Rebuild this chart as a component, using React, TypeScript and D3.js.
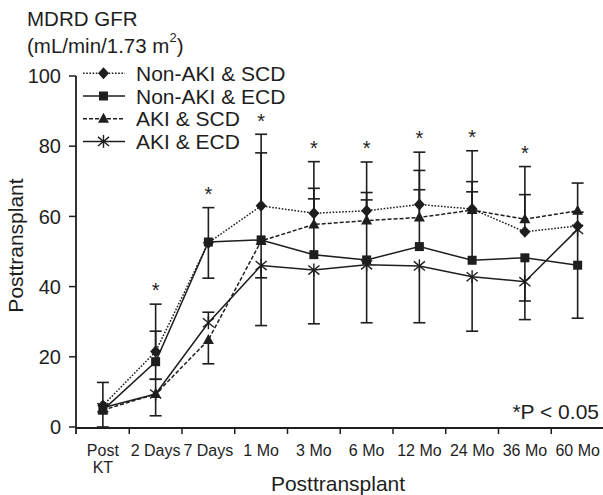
import React from 'react';
import * as d3 from 'd3';

const categories = ['Post KT', '2 Days', '7 Days', '1 Mo', '3 Mo', '6 Mo', '12 Mo', '24 Mo', '36 Mo', '60 Mo'];
const yTicks = [0, 20, 40, 60, 80, 100];

// means and one-sided error bars (0 = no bar drawn in that direction)
const nonAkiScd = [6.1, 21.5, 52.5, 63.0, 60.9, 61.6, 63.4, 62.1, 55.6, 57.3];
const nonAkiScdUp = [6.6, 13.5, 10.0, 20.4, 14.7, 13.9, 14.9, 16.6, 10.6, 0];
const nonAkiScdDown = [0, 0, 0, 0, 0, 0, 0, 0, 0, 0];
const nonAkiEcd = [4.8, 18.6, 52.7, 53.3, 49.1, 47.6, 51.4, 47.5, 48.2, 46.1];
const nonAkiEcdUp = [0, 8.7, 0, 24.8, 15.9, 17.1, 16.2, 19.5, 0, 15.1];
const nonAkiEcdDown = [0, 5.0, 10.3, 0, 0, 0, 0, 0, 17.6, 15.1];
const akiScd = [4.8, 9.4, 24.8, 53.0, 57.7, 58.8, 59.7, 61.8, 59.2, 61.6];
const akiScdUp = [0, 0, 0, 0, 10.3, 8.0, 13.4, 8.1, 15.0, 7.9];
const akiScdDown = [0, 6.2, 6.8, 10.5, 0, 0, 0, 0, 0, 0];
const akiEcd = [5.5, 9.4, 29.7, 46.0, 44.7, 46.2, 45.9, 42.8, 41.4, 56.3];
const akiEcdUp = [0, 4.2, 3.0, 0, 0, 0, 0, 0, 0, 0];
const akiEcdDown = [5.5, 0, 0, 17.1, 15.3, 16.5, 16.2, 15.5, 5.5, 0];

// 1 = significant (*P < 0.05)
const significant = [0, 1, 1, 1, 1, 1, 1, 1, 1, 0];

const series = [
  { name: 'Non-AKI & SCD', values: nonAkiScd, up: nonAkiScdUp, down: nonAkiScdDown, dash: '1.6 1.6', marker: 'diamond' },
  { name: 'Non-AKI & ECD', values: nonAkiEcd, up: nonAkiEcdUp, down: nonAkiEcdDown, dash: null, marker: 'square' },
  { name: 'AKI & SCD', values: akiScd, up: akiScdUp, down: akiScdDown, dash: '4 2', marker: 'triangle' },
  { name: 'AKI & ECD', values: akiEcd, up: akiEcdUp, down: akiEcdDown, dash: null, marker: 'asterisk' },
];

const INK = '#1e1e1e';
const FONT = '"Liberation Sans", Arial, sans-serif';

function Marker({ type, x, y }: { type: string; x: number; y: number }) {
  if (type === 'diamond') {
    return <path d={`M${x},${y - 6}L${x + 5.5},${y}L${x},${y + 6}L${x - 5.5},${y}Z`} fill={INK} />;
  }
  if (type === 'square') {
    return <rect x={x - 4.5} y={y - 4.5} width={9} height={9} fill={INK} />;
  }
  if (type === 'triangle') {
    return <path d={`M${x},${y - 6}L${x + 5.5},${y + 4}L${x - 5.5},${y + 4}Z`} fill={INK} />;
  }
  const r = 6.5;
  return (
    <g stroke={INK} strokeWidth={1.4}>
      <line x1={x - r * 0.85} y1={y - r * 0.7} x2={x + r * 0.85} y2={y + r * 0.7} />
      <line x1={x - r * 0.85} y1={y + r * 0.7} x2={x + r * 0.85} y2={y - r * 0.7} />
      <line x1={x} y1={y - r} x2={x} y2={y + r} />
    </g>
  );
}

export default function App() {
  const width = 603;
  const height = 495;

  const x = d3.scaleBand<string>().domain(categories).range([76.5, 604]);
  const y = d3.scaleLinear().domain([0, 100]).range([427, 76]);
  const cx = (c: string) => (x(c) as number) + x.bandwidth() / 2;

  const capHalf = 6;

  return (
    <svg
      width={width}
      height={height}
      style={{ position: 'absolute', left: 0, top: 0, background: '#fff', fontFamily: FONT }}
    >
      {/* title */}
      <text x={27} y={26} fontSize={20.5} fill={INK}>MDRD GFR</text>
      <text x={27} y={53} fontSize={20.5} fill={INK}>
        (mL/min/1.73 m<tspan fontSize={13} dy={-11}>2</tspan><tspan dy={11}>)</tspan>
      </text>

      {/* error bars */}
      {series.map((s) =>
        s.values.map((v, i) => {
          const px = cx(categories[i]);
          const bars = [];
          if (s.up[i] > 0) {
            const hi = y(v + s.up[i]);
            bars.push(
              <g key="u" stroke={INK} strokeWidth={1.6}>
                <line x1={px} x2={px} y1={hi} y2={y(v)} />
                <line x1={px - capHalf} x2={px + capHalf} y1={hi} y2={hi} />
              </g>
            );
          }
          if (s.down[i] > 0) {
            const lo = y(Math.max(0, v - s.down[i]));
            bars.push(
              <g key="d" stroke={INK} strokeWidth={1.6}>
                <line x1={px} x2={px} y1={y(v)} y2={lo} />
                <line x1={px - capHalf} x2={px + capHalf} y1={lo} y2={lo} />
              </g>
            );
          }
          return <g key={s.name + i}>{bars}</g>;
        })
      )}

      {/* lines */}
      {series.map((s) => {
        const line = d3
          .line<number>()
          .x((_, i) => cx(categories[i]))
          .y((v) => y(v));
        return (
          <path
            key={s.name}
            d={line(s.values) || ''}
            fill="none"
            stroke={INK}
            strokeWidth={1.5}
            strokeDasharray={s.dash || undefined}
          />
        );
      })}

      {/* markers */}
      {series.map((s) =>
        s.values.map((v, i) => (
          <Marker key={s.name + 'm' + i} type={s.marker} x={cx(categories[i])} y={y(v)} />
        ))
      )}

      {/* significance asterisks */}
      {significant.map((f, i) => {
        if (!f) return null;
        const top = d3.max(series, (s) => s.values[i] + s.up[i]) as number;
        return (
          <text key={'sig' + i} x={cx(categories[i])} y={y(top + 5.2) + 11.5} fontSize={20} textAnchor="middle" fill={INK}>
            *
          </text>
        );
      })}

      {/* y axis */}
      <line x1={76} x2={76} y1={y(100)} y2={434} stroke={INK} strokeWidth={1.8} />
      {yTicks.map((t) => (
        <g key={'yt' + t}>
          <line x1={69} x2={76} y1={y(t)} y2={y(t)} stroke={INK} strokeWidth={1.5} />
          <text x={61} y={y(t) + 7.2} fontSize={20} textAnchor="end" fill={INK}>{t}</text>
        </g>
      ))}
      <text transform={`translate(23,245.5) rotate(-90)`} fontSize={21} textAnchor="middle" fill={INK}>
        Posttransplant
      </text>

      {/* x axis */}
      <line x1={76} x2={603} y1={y(0) + 1} y2={y(0) + 1} stroke={INK} strokeWidth={1.8} />
      {categories.slice(1).map((c) => (
        <line key={'xt' + c} x1={x(c)} x2={x(c)} y1={y(0) + 1} y2={y(0) + 7} stroke={INK} strokeWidth={1.5} />
      ))}
      {categories.map((c) => {
        const parts = c === 'Post KT' ? ['Post', 'KT'] : [c];
        return (
          <text key={'xl' + c} x={cx(c)} y={456} fontSize={16} textAnchor="middle" fill={INK}>
            {parts.map((p, k) => (
              <tspan key={p} x={cx(c)} dy={k === 0 ? 0 : 16.7}>{p}</tspan>
            ))}
          </text>
        );
      })}
      <text x={338} y={490.5} fontSize={21} textAnchor="middle" fill={INK}>Posttransplant</text>

      {/* p value note */}
      <text x={599} y={419.3} fontSize={21} textAnchor="end" fill={INK}>*P &lt; 0.05</text>

      {/* legend */}
      {series.map((s, i) => {
        const ly = 73.3 + i * 22.7;
        return (
          <g key={'lg' + s.name}>
            <line x1={83} x2={125} y1={ly} y2={ly} stroke={INK} strokeWidth={1.5} strokeDasharray={s.dash || undefined} />
            <Marker type={s.marker} x={103.5} y={ly} />
            <text x={136} y={ly + 7.5} fontSize={21} fill={INK}>{s.name}</text>
          </g>
        );
      })}
    </svg>
  );
}
